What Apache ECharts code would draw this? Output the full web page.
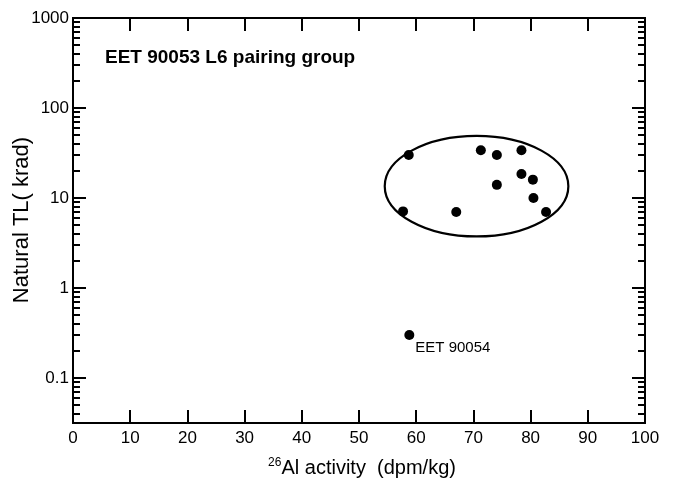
<!DOCTYPE html>
<html>
<head>
<meta charset="utf-8">
<script src="https://cdn.jsdelivr.net/npm/echarts@6/dist/echarts.min.js"></script>
<style>
  html, body { margin: 0; padding: 0; background: #fff; }
  #chart { width: 675px; height: 488px; }
</style>
</head>
<body>
<div id="chart"></div>
<script>
// 26Al activity (dpm/kg) and natural TL (krad) for the pairing-group members
const groupAl = [58.7, 71.3, 74.1, 78.4, 78.4, 80.4, 74.1, 80.5, 57.7, 67.0, 82.7];
const groupTL = [30, 34, 30, 34, 18.5, 16, 14, 10, 7.1, 7, 7];

// the separate stone, labelled on the plot
const outlierName = 'EET 90054';
const outlierAl = [58.8];
const outlierTL = [0.3];

// bounds of the ellipse drawn around the group: [xMin, xMax, yMin, yMax]
const groupBounds = [54.5, 86.6, 3.74, 49];

// axis ticks
const xTicks = [0, 10, 20, 30, 40, 50, 60, 70, 80, 90, 100];
const yMajor = [0.1, 1, 10, 100, 1000];
const yMinor = [];
[0.01, 0.1, 1, 10, 100].forEach(d => {
  for (let k = 2; k <= 9; k++) yMinor.push(+(d * k).toPrecision(3));
});

const Y_MIN = Math.pow(10, -1.5);
const Y_MAX = 1000;
const FONT = '"Liberation Sans", Arial, sans-serif';
const INK = '#000';

const chart = echarts.init(document.getElementById('chart'), null, { renderer: 'canvas' });

function yAxisDef(position, ticks, len, showLabel) {
  return {
    type: 'log', logBase: 10, min: Y_MIN, max: Y_MAX,
    position: position, offset: 0,
    axisLine: { show: true, lineStyle: { color: INK, width: 2 } },
    axisTick: { show: true, inside: true, length: len, customValues: ticks,
                lineStyle: { color: INK, width: 2 } },
    axisLabel: showLabel ? {
      show: true, customValues: yMajor, margin: 4,
      color: INK, fontSize: 17, fontFamily: FONT,
      formatter: v => String(v)
    } : { show: false },
    splitLine: { show: false }
  };
}

function xAxisDef(position, showLabel) {
  return {
    type: 'value', min: 0, max: 100, interval: 10,
    position: position,
    axisLine: { show: true, onZero: false, lineStyle: { color: INK, width: 2 } },
    axisTick: { show: true, inside: true, length: 13, lineStyle: { color: INK, width: 2 } },
    axisLabel: showLabel ? {
      show: true, margin: 7, color: INK, fontSize: 17, fontFamily: FONT,
      customValues: xTicks
    } : { show: false },
    splitLine: { show: false }
  };
}

chart.setOption({
  animation: false,
  backgroundColor: '#fff',
  grid: { left: 73, right: 30, top: 18, bottom: 65, containLabel: false, outerBoundsMode: 'none' },
  xAxis: [xAxisDef('bottom', true), xAxisDef('top', false)],
  yAxis: [
    yAxisDef('left', yMajor, 13, true),
    yAxisDef('left', yMinor, 7, false),
    yAxisDef('right', yMajor, 13, false),
    yAxisDef('right', yMinor, 7, false)
  ],
  series: [
    {
      type: 'custom',
      xAxisIndex: 0, yAxisIndex: 0,
      clip: false,
      silent: true,
      data: [groupBounds],
      renderItem: function (params, api) {
        const a = api.coord([api.value(0), api.value(3)]);
        const b = api.coord([api.value(1), api.value(2)]);
        return {
          type: 'ellipse',
          shape: {
            cx: (a[0] + b[0]) / 2, cy: (a[1] + b[1]) / 2,
            rx: Math.abs(b[0] - a[0]) / 2, ry: Math.abs(b[1] - a[1]) / 2
          },
          style: { fill: 'none', stroke: INK, lineWidth: 2.2 }
        };
      },
      z: 3
    },
    {
      type: 'scatter',
      xAxisIndex: 0, yAxisIndex: 0,
      symbol: 'circle', symbolSize: 10,
      itemStyle: { color: INK, opacity: 1 },
      data: groupAl.map((x, i) => [x, groupTL[i]]),
      z: 4
    },
    {
      type: 'scatter',
      xAxisIndex: 0, yAxisIndex: 0,
      symbol: 'circle', symbolSize: 10,
      itemStyle: { color: INK, opacity: 1 },
      data: outlierAl.map((x, i) => [x, outlierTL[i]]),
      label: {
        show: true, position: [11, 18], align: 'left', verticalAlign: 'middle',
        formatter: outlierName, color: INK, opacity: 1, fontSize: 15, fontFamily: FONT
      },
      z: 4
    }
  ],
  graphic: [
    {
      type: 'text', left: 105, top: 48,
      style: { text: 'EET 90053 L6 pairing group', fill: INK,
               font: 'bold 19px ' + FONT }
    },
    {
      type: 'text', x: 22, y: 220, rotation: Math.PI / 2,
      style: { text: 'Natural TL( krad)', fill: INK, font: '22px ' + FONT,
               align: 'center', verticalAlign: 'middle' }
    },
    {
      type: 'text', x: 362, y: 468,
      style: {
        text: '{s|26}{n|Al activity  (dpm/kg)}',
        align: 'center', verticalAlign: 'middle', fill: INK,
        rich: {
          s: { fontSize: 12, fontFamily: FONT, fill: INK, verticalAlign: 'top', lineHeight: 22 },
          n: { fontSize: 20, fontFamily: FONT, fill: INK, lineHeight: 22 }
        }
      }
    }
  ]
});
</script>
</body>
</html>
